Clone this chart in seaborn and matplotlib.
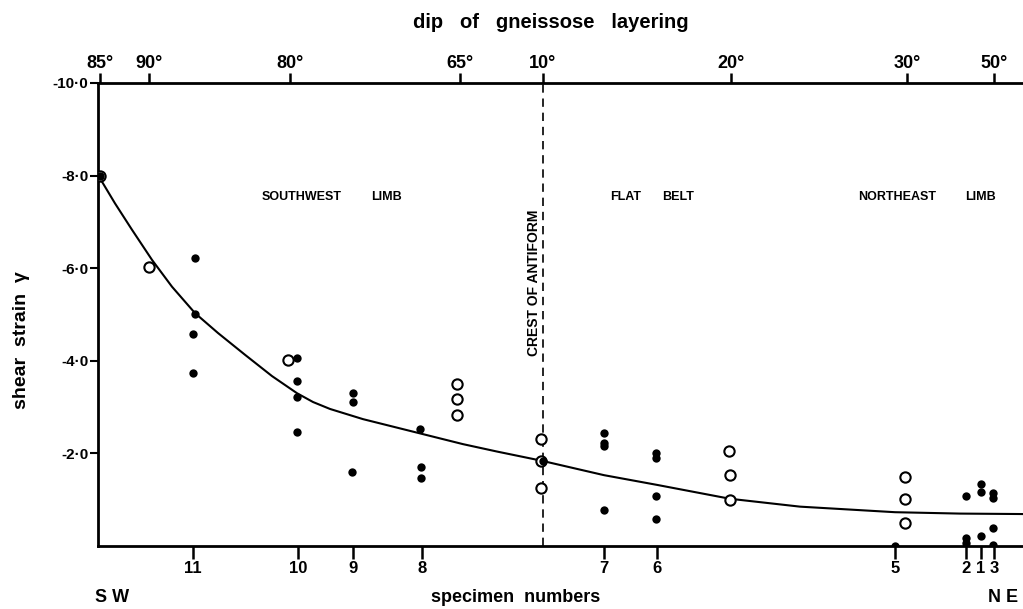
import matplotlib
matplotlib.use("Agg")
import matplotlib.pyplot as plt
import seaborn as sns
import pandas as pd

# ---------------- data ----------------
# horizontal position along section (arbitrary distance units)
spec_labels = ["11", "10", "9", "8", "7", "6", "5", "2", "1", "3"]
spec_pos = [95, 200, 255, 324, 506, 559, 797, 868, 883, 896]

dip_labels = ["85°", "90°", "80°", "65°", "10°", "20°", "30°", "50°"]
dip_pos = [2, 51, 192, 362, 445, 633, 809, 896]

crest_pos = 445

# shear strain magnitude (plotted as -gamma on the axis labels)
filled_x = [2, 97, 97, 95, 95, 199, 199, 199, 199, 255, 255, 254, 322, 323, 323,
            445, 506, 506, 506, 506, 558, 558, 558, 558, 797,
            868, 868, 868, 883, 883, 883, 895, 895, 895, 895]
filled_y = [8.0, 6.22, 5.01, 4.58, 3.74, 4.06, 3.56, 3.22, 2.46, 3.30, 3.11, 1.60, 2.53, 1.71, 1.47,
            1.84, 2.44, 2.23, 2.16, 0.78, 2.00, 1.90, 1.08, 0.58, 0.0,
            1.08, 0.17, 0.07, 1.34, 1.17, 0.22, 1.14, 1.04, 0.39, 0.02]

open_x = [2, 51, 190, 359, 359, 359, 443, 443, 443, 631, 632, 632, 807, 807, 807]
open_y = [8.0, 6.03, 4.02, 3.50, 3.17, 2.83, 2.31, 1.84, 1.26, 2.06, 1.53, 0.99, 1.49, 1.02, 0.50]

# fitted curve
curve_x = [2, 17, 34, 54, 74, 97, 120, 147, 174, 199, 215, 232, 265, 315, 365, 399, 444,
           472, 506, 559, 632, 702, 797, 862, 925]
curve_y = [7.94, 7.40, 6.83, 6.18, 5.60, 5.03, 4.60, 4.13, 3.67, 3.30, 3.11, 2.96, 2.74, 2.47, 2.20, 2.04, 1.84,
           1.70, 1.53, 1.32, 1.02, 0.85, 0.73, 0.70, 0.69]

ytick_vals = [2, 4, 6, 8, 10]
ytick_labels = ["-2·0", "-4·0", "-6·0", "-8·0", "-10·0"]

# ---------------- plot ----------------
sns.set_theme(style="ticks")
plt.rcParams["font.family"] = ["Liberation Sans", "DejaVu Sans"]
plt.rcParams["font.weight"] = "bold"
for k in ["text.color", "axes.labelcolor", "xtick.color", "ytick.color", "axes.edgecolor"]:
    plt.rcParams[k] = "black"

W, H = 1023, 609
fig = plt.figure(figsize=(W / 100, H / 100), dpi=100)
ax = fig.add_axes([98 / W, 63 / H, (W - 98) / W, (546 - 83) / H])

df_f = pd.DataFrame({"x": filled_x, "y": filled_y})
df_o = pd.DataFrame({"x": open_x, "y": open_y})
df_c = pd.DataFrame({"x": curve_x, "y": curve_y})

sns.lineplot(data=df_c, x="x", y="y", ax=ax, color="black", lw=1.5, sort=True, zorder=2)
sns.scatterplot(data=df_o, x="x", y="y", ax=ax, s=55, marker="o",
                facecolor="white", edgecolor="black", linewidth=1.5, zorder=3)
sns.scatterplot(data=df_f, x="x", y="y", ax=ax, s=36, marker="o",
                color="black", edgecolor="black", linewidth=0, zorder=4)

ax.axvline(crest_pos, color="black", lw=1.2, ls=(0, (5, 3.5)), zorder=1)

ax.set_xlim(0, 925)
ax.set_ylim(0, 10)
ax.set_xlabel("")
ax.set_ylabel("")

for side in ["left", "bottom", "top"]:
    ax.spines[side].set_linewidth(2)
    ax.spines[side].set_color("black")
ax.spines["right"].set_visible(False)

ax.set_yticks(ytick_vals)
ax.set_yticklabels(ytick_labels, fontsize=11, fontweight="bold")
ax.tick_params(axis="y", direction="out", length=6, width=1.5, pad=1, colors="black")

ax.set_xticks(spec_pos)
ax.set_xticklabels(spec_labels, fontsize=12, fontweight="bold")
ax.tick_params(axis="x", direction="out", length=9, width=1.8, pad=2, colors="black")

top = ax.twiny()
top.set_xlim(ax.get_xlim())
top.set_xticks(dip_pos)
top.set_xticklabels(dip_labels, fontsize=13, fontweight="bold")
top.tick_params(axis="x", direction="out", length=7, width=1.8, pad=1, colors="black")
for s in top.spines.values():
    s.set_visible(False)

def py(yp):
    return (546 - yp) / 46.3

region_fs = 9
yr = py(197)
ax.text(301.5 - 98, yr, "SOUTHWEST", fontsize=region_fs, fontweight="bold", ha="center", va="center")
ax.text(386 - 98, yr, "LIMB", fontsize=region_fs, fontweight="bold", ha="center", va="center")
ax.text(626 - 98, yr, "FLAT", fontsize=region_fs, fontweight="bold", ha="center", va="center")
ax.text(678 - 98, yr, "BELT", fontsize=region_fs, fontweight="bold", ha="center", va="center")
ax.text(897 - 98, yr, "NORTHEAST", fontsize=region_fs, fontweight="bold", ha="center", va="center")
ax.text(981 - 98, yr, "LIMB", fontsize=region_fs, fontweight="bold", ha="center", va="center")
ax.text(436.5, py(283), "CREST OF ANTIFORM", fontsize=10, fontweight="bold",
        rotation=90, ha="center", va="center")

fig.text(551 / W, 1 - 22 / H, "dip   of   gneissose   layering", fontsize=14.5,
         fontweight="bold", ha="center", va="center")
fig.text(516 / W, 1 - 597 / H, "specimen  numbers", fontsize=13,
         fontweight="bold", ha="center", va="center")
fig.text(112 / W, 1 - 597 / H, "S W", fontsize=13, fontweight="bold", ha="center", va="center")
fig.text(1003 / W, 1 - 597 / H, "N E", fontsize=13, fontweight="bold", ha="center", va="center")
fig.text(22 / W, 1 - 340 / H, "shear  strain  γ", fontsize=14, fontweight="bold",
         rotation=90, ha="center", va="center")

fig.savefig("out.png", dpi=100, facecolor="white")
